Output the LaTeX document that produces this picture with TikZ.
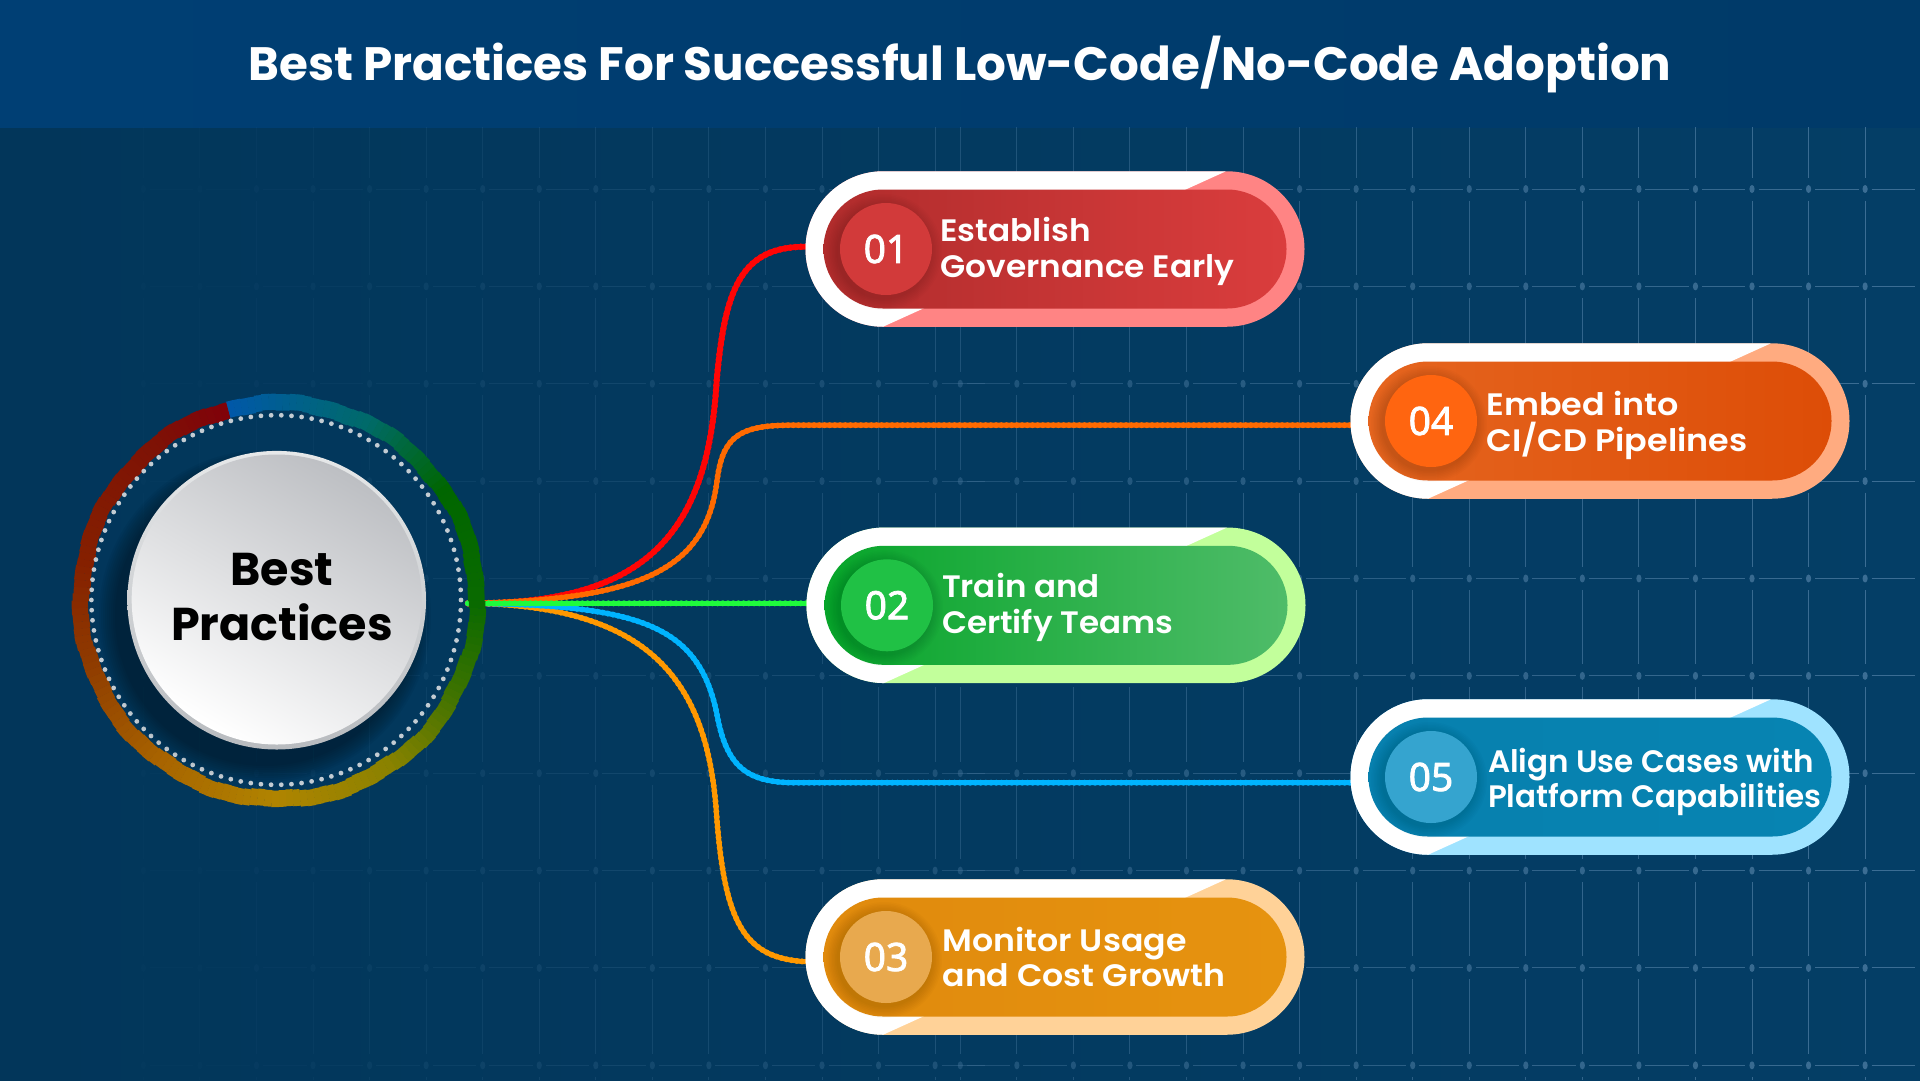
\documentclass[tikz,border=0pt]{standalone}
\usepackage{fontspec}
\usetikzlibrary{calc,shapes.misc}
\setmainfont{Poppins}
\newfontfamily\numfont{Noto Sans}[FakeBold=2]
\newfontfamily\headfont{Poppins SemiBold}
\newfontfamily\discfont{Poppins}[UprightFont={* Bold}]
\pgfdeclarelayer{bgl}
\pgfdeclarelayer{connl}
\pgfsetlayers{bgl,connl,main}
\definecolor{gridc}{HTML}{4A7AA0}
\definecolor{bodyL}{HTML}{02365A}
\definecolor{bodyR}{HTML}{043E66}
\definecolor{headL}{HTML}{003F74}
\definecolor{headM}{HTML}{004077}
\definecolor{headR}{HTML}{003A68}
\definecolor{rA}{HTML}{0058A8}\definecolor{rB}{HTML}{006A6A}\definecolor{rC}{HTML}{006600}
\definecolor{rD}{HTML}{0A6A00}\definecolor{rE}{HTML}{3A7200}\definecolor{rF}{HTML}{8A8200}
\definecolor{rG}{HTML}{B08400}\definecolor{rH}{HTML}{A86400}\definecolor{rI}{HTML}{8F3C00}
\definecolor{rJ}{HTML}{852000}\definecolor{rK}{HTML}{7E1205}\definecolor{rL}{HTML}{80000A}
\definecolor{dotc}{HTML}{C3CCD3}
\definecolor{lnred}{HTML}{FF0505}\definecolor{lnora}{HTML}{FF6A00}\definecolor{lngrn}{HTML}{1FFB3C}
\definecolor{lnblu}{HTML}{00B4FF}\definecolor{lnamb}{HTML}{FF9800}
\tikzset{
  pillouter/.style={rounded rectangle,minimum width=499pt,minimum height=155.5pt,inner sep=0pt,outer sep=0pt},
  pillinner/.style={rounded rectangle,minimum width=463pt,minimum height=119pt,inner sep=0pt,outer sep=0pt},
  numdisc/.style={circle,minimum size=92pt,inner sep=0pt,outer sep=0pt,text=white,font=\numfont\fontsize{39}{39}\selectfont},
  pilltext/.style={anchor=west,align=left,text=white,inner sep=0pt,outer sep=0pt,font=\headfont\addfontfeatures{FakeStretch=\tst}\fontsize{31}{35.4}\selectfont},
  conn/.style={line width=5pt,line cap=round,postaction={draw,line width=6pt,line cap=round,dash pattern=on 0pt off 5.2pt}},
  connthick/.style={line width=5.6pt,line cap=round,postaction={draw,line width=6.6pt,line cap=round,dash pattern=on 0pt off 5.2pt}},
}
\newcommand\pfirst{\rule{0pt}{24pt}}
\newcommand\plast{\rule[-8pt]{0pt}{8pt}}
\newcommand\pillbox[9]{%
  \pgfmathsetmacro\cx{#2+249.5}
  \pgfmathsetmacro\nx{#2+80.5}
  \pgfmathsetmacro\tx{#2+\tdx}
  \pgfmathsetmacro\ty{#3+\tdy}
  \node[pillouter,fill=#4,path picture={\fill[white] (path picture bounding box.south west) -- ($(path picture bounding box.south west)+(77.5,0)$) -- ($(path picture bounding box.north west)+(420.5,0)$) -- (path picture bounding box.north west) -- cycle;}] (p#1) at (\cx,#3) {};
  \node[pillinner,left color=#5,right color=#6] (i#1) at (\cx,#3) {};
  \foreach \rr in {58,56.5,...,46.5}{\fill[black,opacity=.016] (\nx-2,#3+3) circle (\rr);}
  \node[numdisc,fill=#7] (n#1) at (\nx,#3) {#8};
  \node[pilltext] (t#1) at (\tx,\ty) {#9};
}
\definecolor{a1}{HTML}{FF8484}\definecolor{b1}{HTML}{B02C2C}\definecolor{c1}{HTML}{DA3D3D}\definecolor{d1}{HTML}{D23A3A}
\definecolor{a2}{HTML}{C2FF9B}\definecolor{b2}{HTML}{07A52A}\definecolor{c2}{HTML}{4FBC69}\definecolor{d2}{HTML}{20C145}
\definecolor{a3}{HTML}{FFD298}\definecolor{b3}{HTML}{E08A0D}\definecolor{c3}{HTML}{E6930F}\definecolor{d3}{HTML}{E8A94E}
\definecolor{a4}{HTML}{FFAB80}\definecolor{b4}{HTML}{E5651F}\definecolor{c4}{HTML}{DD4D07}\definecolor{d4}{HTML}{FF6510}
\definecolor{a5}{HTML}{9FE3FF}\definecolor{b5}{HTML}{0780AE}\definecolor{c5}{HTML}{0784B2}\definecolor{d5}{HTML}{35A4CF}
\definecolor{rimT}{HTML}{E6E8E9}\definecolor{rimB}{HTML}{B8BBBF}\definecolor{faceT}{HTML}{BDBFC3}
\begin{document}
\begin{tikzpicture}[x=1pt,y=-1pt]
\useasboundingbox (0,0) rectangle (1920,1080);

% pills
\def\tdx{135}\def\tdy{2.4}\def\tst{1.057}
\pillbox{1}{805.5}{249}{a1}{b1}{c1}{d1}{01}{\pfirst Establish\\Governance Early\plast}
\def\tdx{135.5}\def\tdy{2}\def\tst{1.05}
\pillbox{2}{806.5}{605.3}{a2}{b2}{c2}{d2}{02}{\pfirst Train and\\Certify Teams\plast}
\def\tdx{137}\def\tdy{3.6}\def\tst{1.07}
\pillbox{3}{805.5}{957}{a3}{b3}{c3}{d3}{03}{\pfirst Monitor Usage\\and Cost Growth\plast}
\def\tdx{136}\def\tdy{4.4}\def\tst{1.077}
\pillbox{4}{1350.5}{421}{a4}{b4}{c4}{d4}{04}{\pfirst Embed into\\CI/CD Pipelines\plast}
\def\tdx{137.5}\def\tdy{5}\def\tst{1.0}
\pillbox{5}{1350.5}{777}{a5}{b5}{c5}{d5}{05}{\pfirst Align Use Cases with\\Platform Capabilities\plast}

\begin{pgfonlayer}{bgl}
  \fill[left color=bodyL,right color=bodyR] (0,127) rectangle (1920,1080);
  \fill[left color=headL,middle color=headM,right color=headR] (0,0) rectangle (1920,127);
  \foreach \xo/\kk in {143.4/14,960.3/16}{
    \foreach \k in {0,...,\kk}{
      \pgfmathsetmacro\xx{\xo+56.55*\k}
      \pgfmathsetmacro\op{max(0.03,min(0.85,(-6+0.046*\xx)/100))}
      \begin{scope}[opacity=\op]
        \draw[gridc,line width=1pt] (\xx,127) -- (\xx,177.5);
        \foreach \j in {0,...,9}{
          \pgfmathsetmacro\yy{189+97.37*\j}
          \pgfmathsetmacro\ya{\yy+11.5}
          \pgfmathsetmacro\yb{min(\yy+85.87,1080)}
          \pgfmathsetmacro\hs{\xx+6.5}
          \pgfmathsetmacro\he{\xx+50}
          \draw[gridc,line width=1pt] (\xx,\ya) -- (\xx,\yb);
          \draw[gridc,line width=1pt] (\hs,\yy) -- (\he,\yy);
          \fill[gridc] (\xx,\yy) ellipse (2.6 and 4);
        }
      \end{scope}
    }
  }
\end{pgfonlayer}

% connectors
\coordinate (hub) at (468,603.3);
\coordinate (bred) at (716.7,380);
\coordinate (bora) at (716.7,483);
\coordinate (bblu) at (716.7,713);
\coordinate (bamb) at (716.7,816.7);
\begin{pgfonlayer}{connl}
  \draw[connthick,lnred] (hub) .. controls (650,605) and (708,530) .. (bred)
     .. controls (725,290) and (740,246.7) .. ([yshift=2.3pt]p1.west);
  \draw[conn,lnora] (hub) .. controls (640,600) and (705,570) .. (bora)
     .. controls (722,440) and (735,425.2) .. (790,425.2) -- ([yshift=-4.2pt]p4.west);
  \draw[conn,lnamb] (hub) .. controls (650,605) and (708,680) .. (bamb)
     .. controls (725,925) and (745,958) .. ([yshift=-4.7pt]p3.west);
  \draw[conn,lnblu] (hub) .. controls (640,605) and (698,625) .. (bblu)
     .. controls (726,765) and (745,782.7) .. (795,782.7) -- ([yshift=-5.7pt]p5.west);
  \draw[conn,lngrn] (hub) -- ([yshift=2pt]p2.west);
\end{pgfonlayer}

% coloured ring
\begin{scope}[shift={(279,601)}]
  \foreach \a/\b/\ca/\cb in {-105/-65/rA/rB,-65/-35/rB/rC,-35/0/rC/rD,0/25/rD/rE,25/55/rE/rF,55/90/rF/rG,90/125/rG/rH,125/160/rH/rI,160/190/rI/rJ,190/230/rJ/rK,230/255/rK/rL}{
    \pgfmathtruncatemacro\n{(\b-\a)/2}
    \pgfmathsetmacro\stepa{(\b-\a)/\n}
    \foreach \i in {1,...,\n}{
      \pgfmathsetmacro\tha{\a+\stepa*(\i-1)}
      \pgfmathsetmacro\thb{\tha+\stepa+0.1}
      \pgfmathtruncatemacro\pc{100*(\i-1)/\n}
      \pgfmathsetmacro\jit{1.1*sin(\tha*11)+0.7*sin(\tha*37)}
      \pgfmathsetmacro\ri{190+\jit}
      \pgfmathsetmacro\ro{206.5+\jit*0.8}
      \colorlet{segc}{\cb!\pc!\ca}
      \fill[segc] (\tha:\ri) -- (\thb:\ri) -- (\thb:\ro) -- (\tha:\ro) -- cycle;
    }
  }
\end{scope}

% dotted ring
\foreach \i in {0,...,113}{
  \fill[dotc] ($(276.2,600)+(\i*3.158:184.8)$) circle (2.4);
}

% soft shadow of the disc
\foreach \rr in {150,152,...,166}{\fill[black,opacity=.04] (265,616) circle (\rr);}

% disc
\node[circle,minimum size=298.6pt,inner sep=0pt,outer sep=0pt,top color=rimT,bottom color=rimB] (rim) at (276.7,600.2) {};
\node[circle,minimum size=290pt,inner sep=0pt,outer sep=0pt,top color=faceT,bottom color=white,shading angle=-30] (disc) at (276.7,599.5) {};
\node[align=center,text=black,inner sep=0pt,font=\discfont\fontsize{46}{55.7}\selectfont] (disclabel) at (282,601.85) {\rule{0pt}{32pt}Best\\Practices\rule[-10pt]{0pt}{10pt}};

% title
\node[anchor=base,text=white,inner sep=0pt,font=\discfont\fontsize{46.8}{50}\selectfont] (title) at (960,80) {Best Practices For Successful Low-Code/No-Code Adoption};
\end{tikzpicture}
\end{document}
